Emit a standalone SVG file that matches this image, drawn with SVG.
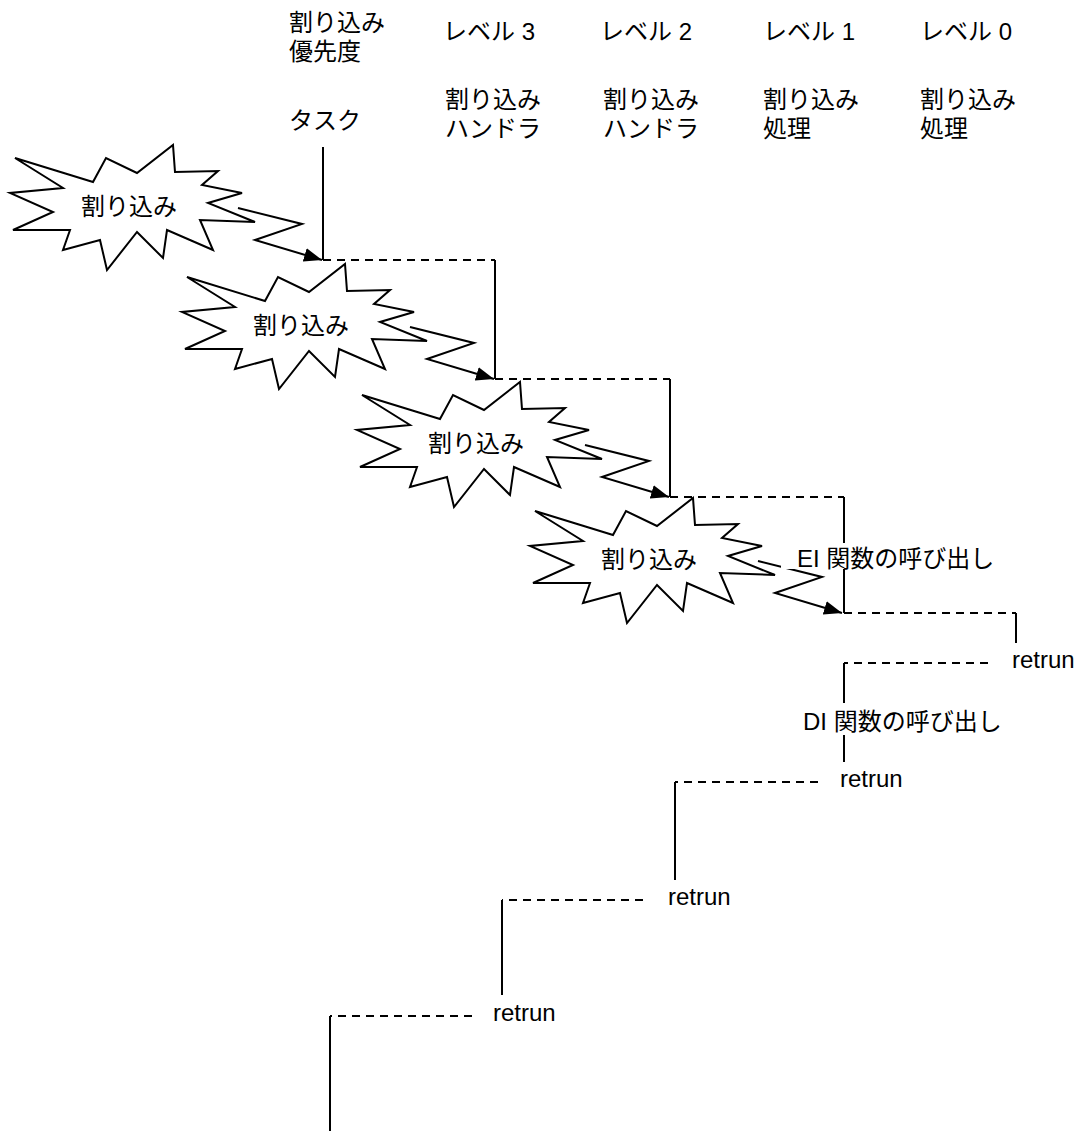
<svg xmlns="http://www.w3.org/2000/svg" width="1076" height="1131" viewBox="0 0 1076 1131">
<style>
text { font-family: "Liberation Sans", "Noto Sans CJK JP", sans-serif; font-size: 24px; fill: #000; }
.burst { fill: #fff; stroke: #000; stroke-width: 2; stroke-linejoin: miter; }
.solid { fill: none; stroke: #000; stroke-width: 2; }
.dash { fill: none; stroke: #000; stroke-width: 2; stroke-dasharray: 8 6; }
.arrow { fill: none; stroke: #000; stroke-width: 2; marker-end: url(#ah); }
.bg { fill: #fff; stroke: none; }
</style>
<defs>
<marker id="ah" viewBox="0 0 18 14" refX="18" refY="7" markerWidth="18" markerHeight="14" markerUnits="userSpaceOnUse" orient="auto">
<path d="M0,0 L18,7 L0,14 z" fill="#000"/>
</marker>
<polygon id="burstShape" points="15,158 93,182 106,158 137,173 173,145 175,172 218,171 202,185 242,193 208,203 255,222 200,220 213,250 167,230 163,258 137,232 107,270 100,240 63,250 70,230 13,230 53,212 10,193 63,188"/>
</defs>
<rect width="1076" height="1131" fill="#fff"/>

<g id="header">
<text x="289" y="31">割り込み</text>
<text x="289" y="60">優先度</text>
<text x="289" y="129">タスク</text>
<text x="443" y="40">レベル 3</text>
<text x="445" y="108">割り込み</text>
<text x="445" y="137">ハンドラ</text>
<text x="600" y="40">レベル 2</text>
<text x="603" y="108">割り込み</text>
<text x="603" y="137">ハンドラ</text>
<text x="763" y="40">レベル 1</text>
<text x="763" y="108">割り込み</text>
<text x="763" y="137">処理</text>
<text x="920" y="40">レベル 0</text>
<text x="920" y="108">割り込み</text>
<text x="920" y="137">処理</text>
</g>

<g id="connectors">
<path class="solid" d="M323,147 V260"/>
<path class="dash" d="M323,260 H495"/>
<path class="solid" d="M495,260 V379"/>
<path class="dash" d="M495,379 H670"/>
<path class="solid" d="M670,379 V497"/>
<path class="dash" d="M670,497 H844"/>
<path class="solid" d="M844,497 V613"/>
<path class="dash" d="M844,613 H1016"/>
<path class="solid" d="M1016,613 V643"/>
<path class="dash" d="M988,663 H844"/>
<path class="solid" d="M844,663 V762"/>
<path class="dash" d="M818,782 H675"/>
<path class="solid" d="M675,782 V880"/>
<path class="dash" d="M643,900 H502"/>
<path class="solid" d="M502,900 V995"/>
<path class="dash" d="M472,1016 H330"/>
<path class="solid" d="M330,1016 V1131"/>
<path class="arrow" d="M238,208 L302,224 L255,240 L322,260"/>
<path class="arrow" d="M410,327 L474,343 L427,359 L494,379"/>
<path class="arrow" d="M585,445 L649,461 L602,477 L669,497"/>
<path class="arrow" d="M758,561 L822,577 L775,593 L842,613"/>
</g>

<g id="burst1">
<use href="#burstShape" class="burst"/>
<text x="81" y="215">割り込み</text>
</g>
<g id="burst2" transform="translate(172,119)">
<use href="#burstShape" class="burst"/>
<text x="81" y="215">割り込み</text>
</g>
<g id="burst3" transform="translate(347,237)">
<use href="#burstShape" class="burst"/>
<text x="81" y="215">割り込み</text>
</g>
<g id="burst4" transform="translate(520,353)">
<use href="#burstShape" class="burst"/>
<text x="81" y="215">割り込み</text>
</g>

<g id="label-ei">
<rect class="bg" x="781" y="543" width="220" height="26"/>
<text x="797" y="567">EI 関数の呼び出し</text>
</g>
<g id="label-di">
<rect class="bg" x="800" y="703" width="200" height="32"/>
<text x="803" y="730">DI 関数の呼び出し</text>
</g>
<g id="return1"><text x="1012" y="668">retrun</text></g>
<g id="return2"><text x="840" y="787">retrun</text></g>
<g id="return3"><text x="668" y="905">retrun</text></g>
<g id="return4"><text x="493" y="1021">retrun</text></g>
</svg>
